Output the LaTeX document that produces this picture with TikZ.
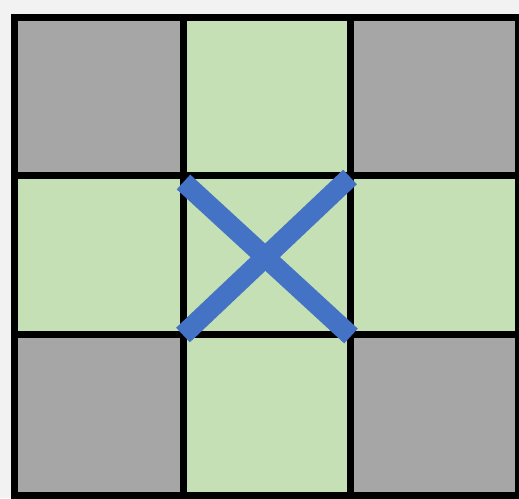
\documentclass[tikz,border=0pt]{standalone}
\usepackage{tikz}
\definecolor{cellgray}{RGB}{166,166,166}
\definecolor{cellgreen}{RGB}{197,224,180}
\definecolor{crossblue}{RGB}{68,114,196}
\definecolor{pagegray}{RGB}{242,242,242}
\tikzset{
  gridline/.style ={line width=7pt,draw=black},
  crossline/.style={line width=20pt,draw=crossblue,line cap=butt},
}

\begin{document}
\begin{tikzpicture}[x=1pt,y=1pt]
  \fill[pagegray] (0,0) rectangle (519,498);
  \useasboundingbox (0,0) rectangle (519,498);
  % cells: gray board, green middle row and column
  \fill[cellgray] (14.5,2.5) rectangle (518.5,480.5);
  \fill[cellgreen] (14.5,163) rectangle (518.5,322);
  \fill[cellgreen] (183.5,2.5) rectangle (350,480.5);
  % grid
  \draw[gridline] (14.5,2.5) rectangle (518.5,480.5);
  \foreach \x in {183.5,350}
    \draw[gridline] (\x,2.5) -- (\x,480.5);
  \foreach \y in {163,322}
    \draw[gridline] (14.5,\y) -- (518.5,\y);
  % cross over the centre cell
  \coordinate (tl) at (183.5,316);
  \coordinate (br) at (351,162);
  \coordinate (tr) at (350,321);
  \coordinate (bl) at (183,163);
  \draw[crossline] (tl) -- (br);
  \draw[crossline] (tr) -- (bl);
\end{tikzpicture}
\end{document}
